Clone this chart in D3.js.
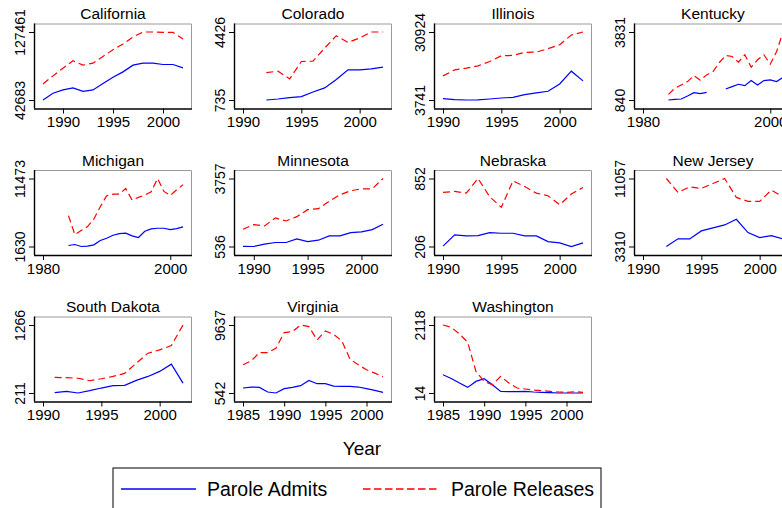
<!DOCTYPE html>
<html><head><meta charset="utf-8">
<script src="https://cdnjs.cloudflare.com/ajax/libs/d3/7.8.5/d3.min.js"></script>
<style>body{margin:0;background:#fff}svg{display:block}text{font-family:"Liberation Sans",Arial,sans-serif}</style>
</head><body>
<script>
// ---- data ----
const stateNames = ["California","Colorado","Illinois","Kentucky","Michigan","Minnesota","Nebraska","New Jersey","South Dakota","Virginia","Washington"];
const startYears = [1988,1992,1990,1984,1984,1989,1990,1992,1991,1985,1985];
const xTickSets = [[1990,1995,2000],[1990,1995,2000],[1990,1995,2000],[1980,2000],[1980,2000],[1990,1995,2000],[1990,1995,2000],[1990,1995,2000],[1990,1995,2000],[1985,1990,1995,2000],[1985,1990,1995,2000]];
const yMinLabels = [42683,735,3741,840,1630,536,206,3310,211,542,14];
const yMaxLabels = [127461,4426,30924,3831,11473,3757,852,11057,1266,9637,2118];

const californiaAdmits   = [42683,51035,55212,57717,53541,55212,63146,71081,77763,86116,88622,88622,86951,86951,82776];
const californiaReleases = [62729,72752,82358,91545,86116,88622,96974,105327,112427,121197,127461,127461,127000,127000,118693];
const coloradoAdmits     = [735,790,862,917,1171,1390,1844,2371,2371,2426,2517];
const coloradoReleases   = [2226,2299,1880,2826,2844,3553,4226,3862,4099,4426,4426];
const illinoisAdmits     = [4277,3900,3741,3800,4150,4545,4812,5884,6553,7223,10169,15257,11374];
const illinoisReleases   = [13382,15793,16462,17399,19140,21417,21551,22756,22890,24229,25836,29719,30924];
const kentuckyAdmits     = [840,870,884,1017,1164,1120,1179,null,null,1326,1429,1532,1473,1695,1503,1695,1724,1650,1842];
const kentuckyReleases   = [1090,1356,1503,1650,1915,1709,1945,2092,2490,2800,2755,2505,2829,2284,2608,2829,2417,2976,3831];
const michiganAdmits     = [1774,1918,1630,1678,1870,2494,2830,3262,3503,3551,3166,2926,3839,4175,4271,4271,4079,4223,4463];
const michiganReleases   = [6095,3359,3935,4511,5615,7392,8976,9216,9216,10033,8352,8736,9072,9552,11473,9600,9024,9840,10561];
const minnesotaAdmits    = [545,536,646,725,725,897,772,835,1039,1039,1196,1227,1337,1589];
const minnesotaReleases  = [1353,1573,1510,1887,1746,1950,2280,2327,2673,2987,3176,3270,3270,3757];
const nebraskaAdmits     = [209,316,307,310,338,332,332,307,307,253,241,206,241];
const nebraskaReleases   = [720,729,713,852,679,578,830,776,713,688,603,704,767];
const newJerseyAdmits    = [3310,4179,4179,5086,5426,5766,6409,4897,4330,4557,4179];
const newJerseyReleases  = [11057,9470,10113,9923,10490,11057,8903,8450,8450,9734,8979];
const southDakotaAdmits  = [216,237,211,247,288,324,329,407,468,546,659,365];
const southDakotaReleases= [453,448,440,401,432,468,515,674,829,880,947,1266];
const virginiaAdmits     = [1208,1340,1296,675,542,1119,1296,1518,2228,1784,1784,1474,1429,1429,1340,1119,897,630];
const virginiaReleases   = [4313,4846,5955,5955,6531,8617,8750,9637,9415,7641,8839,8395,7508,5068,4313,3648,3204,2716];
const washingtonAdmits   = [578,462,322,188,373,455,270,65,55,55,65,45,35,24,14,14,14,14];
const washingtonReleases = [2118,2046,1841,1584,681,373,270,527,322,168,137,106,86,65,45,35,55,35];

const admitsList   = [californiaAdmits,coloradoAdmits,illinoisAdmits,kentuckyAdmits,michiganAdmits,minnesotaAdmits,nebraskaAdmits,newJerseyAdmits,southDakotaAdmits,virginiaAdmits,washingtonAdmits];
const releasesList = [californiaReleases,coloradoReleases,illinoisReleases,kentuckyReleases,michiganReleases,minnesotaReleases,nebraskaReleases,newJerseyReleases,southDakotaReleases,virginiaReleases,washingtonReleases];

const legendLabels = ["Parole Admits","Parole Releases"];
const xTitle = "Year";

// ---- layout ----
const W = 782, H = 508;
const svg = d3.select("body").append("svg").attr("width", W).attr("height", H);
const colLeft = [34, 234, 434, 634];
const plotW = 158;
const rowTop = [23.5, 170, 316.5];
const plotH = 85;
const pad = 8.5;

stateNames.forEach((name, i) => {
  const col = i % 4, row = Math.floor(i / 4);
  const x0 = colLeft[col], y0 = rowTop[row];
  const g = svg.append("g").attr("transform", `translate(${x0},${y0})`);
  const a = admitsList[i], r = releasesList[i];
  const yrs = a.map((_, k) => startYears[i] + k);
  const ticks = xTickSets[i];
  const xmin = Math.min(d3.min(yrs), d3.min(ticks));
  const xmax = Math.max(d3.max(yrs), d3.max(ticks));
  const x = d3.scaleLinear().domain([xmin, xmax]).range([pad + 0.5, plotW - pad - 0.5]);
  const y = d3.scaleLinear().domain([yMinLabels[i], yMaxLabels[i]]).range([plotH - pad, pad]);

  // frame (top / right of plot region)
  g.append("path").attr("d", `M0,0.5H${plotW - 0.5}V${plotH}`)
    .attr("fill", "none").attr("stroke", "#9a9a9a").attr("stroke-width", 1);

  // lines
  const line = d3.line().defined(d => d[1] != null).x(d => x(d[0])).y(d => y(d[1]));
  g.append("path").datum(yrs.map((t, k) => [t, a[k]])).attr("d", line)
    .attr("fill", "none").attr("stroke", "#0000ff").attr("stroke-width", 1.2);
  g.append("path").datum(yrs.map((t, k) => [t, r[k]])).attr("d", line)
    .attr("fill", "none").attr("stroke", "#ff0000").attr("stroke-width", 1.2).attr("stroke-dasharray", "7,4");

  // axes
  const xa = g.append("g").attr("transform", `translate(0,${plotH})`)
    .call(d3.axisBottom(x).tickValues(ticks).tickFormat(d3.format("d")).tickSize(5).tickSizeOuter(0).tickPadding(3));
  xa.select(".domain").attr("d", `M0,0.5H${plotW}`).attr("stroke", "#000").attr("stroke-width", 1.4);
  xa.selectAll("text").attr("font-size", 15).attr("fill", "#000");
  const ya = g.append("g")
    .call(d3.axisLeft(y).tickValues([yMinLabels[i], yMaxLabels[i]]).tickFormat(d3.format("d")).tickSize(5).tickSizeOuter(0).tickPadding(3));
  ya.select(".domain").attr("d", `M0.5,0V${plotH}`).attr("stroke", "#000").attr("stroke-width", 1.4);
  ya.selectAll(".tick text").attr("font-size", 14).attr("fill", "#000")
    .attr("transform", "rotate(-90)").attr("x", 0).attr("y", -9).attr("dy", "0").attr("text-anchor", "middle");

  // title
  g.append("text").attr("x", plotW / 2).attr("y", -4.5).attr("text-anchor", "middle")
    .attr("font-size", 15.5).text(name);
});

// x title
svg.append("text").attr("x", 362).attr("y", 455).attr("text-anchor", "middle").attr("font-size", 19).text(xTitle);

// legend
const lg = svg.append("g");
lg.append("rect").attr("x", 113).attr("y", 468).attr("width", 488).attr("height", 60).attr("fill", "none").attr("stroke", "#000").attr("stroke-width", 1);
lg.append("line").attr("x1", 121).attr("x2", 196).attr("y1", 489).attr("y2", 489).attr("stroke", "#0000ff").attr("stroke-width", 1.5);
lg.append("text").attr("x", 207).attr("y", 496).attr("font-size", 19.5).text(legendLabels[0]);
lg.append("line").attr("x1", 363).attr("x2", 439).attr("y1", 489).attr("y2", 489).attr("stroke", "#ff0000").attr("stroke-width", 1.5).attr("stroke-dasharray", "7.5,3.5");
lg.append("text").attr("x", 451).attr("y", 496).attr("font-size", 19.5).text(legendLabels[1]);
</script>
</body></html>
